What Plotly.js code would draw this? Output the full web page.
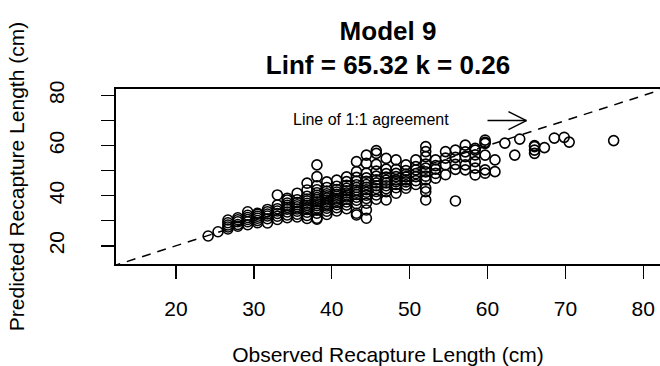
<!DOCTYPE html>
<html>
<head>
<meta charset="utf-8">
<script src="https://cdn.plot.ly/plotly-3.0.1.min.js"></script>
<style>html,body{margin:0;padding:0;background:#fff;}#chart{width:660px;height:366px;}</style>
</head>
<body>
<div id="chart"></div>
<script>
// Observed recapture lengths (cm, half-inch classes) and predicted lengths
const obsLengths = [24.13, 25.40, 26.67, 27.94, 29.21, 30.48, 31.75, 33.02, 34.29, 35.56,
  36.83, 38.10, 39.37, 40.64, 41.91, 43.18, 44.45, 45.72, 46.99, 48.26,
  49.53, 50.80, 52.07, 53.34, 54.61, 55.88, 57.15, 58.42, 59.69, 60.96,
  62.23, 63.50, 64.14, 66.04, 67.31, 68.58, 69.85, 70.49, 76.20];
const predLengths = [
  [23.9],
  [25.6],
  [26.7, 27.5, 28.3, 29.2, 30.3],
  [27.8, 28.5, 29.6, 30.4, 31.2],
  [28.4, 29.6, 30.5, 31.3, 32.2, 33.6],
  [29.2, 30.1, 31.0, 31.8, 32.6, 33.0],
  [29.1, 30.8, 31.9, 32.7, 33.6, 34.5],
  [30.5, 31.8, 32.9, 33.9, 34.8, 36.3, 40.3],
  [31.2, 32.3, 33.5, 34.6, 35.4, 36.2, 37.1, 38.3, 39.0],
  [31.5, 32.6, 33.8, 34.7, 35.6, 36.4, 37.3, 38.4, 41.0],
  [30.9, 32.1, 33.4, 34.5, 35.3, 36.2, 37.0, 37.9, 38.7, 39.8, 42.3, 45.0],
  [30.6, 31.0, 33.0, 34.2, 35.1, 36.0, 36.8, 37.6, 38.5, 39.3, 40.2, 41.2, 42.4, 44.0, 47.6, 52.3],
  [32.5, 33.8, 35.0, 35.9, 36.7, 37.5, 38.3, 39.1, 40.0, 40.8, 41.9, 43.3, 45.5],
  [33.9, 35.2, 36.4, 37.3, 38.2, 39.0, 39.8, 40.6, 41.5, 42.5, 43.8, 46.2],
  [34.8, 36.3, 37.5, 38.6, 39.5, 40.3, 41.1, 42.0, 43.0, 44.2, 45.6, 47.5],
  [32.3, 33.0, 36.8, 38.2, 39.4, 40.5, 41.4, 42.3, 43.3, 44.4, 45.8, 47.3, 49.6, 53.6],
  [31.0, 34.3, 37.0, 38.9, 40.2, 41.4, 42.4, 43.4, 44.5, 45.7, 47.1, 49.0, 52.9, 56.2],
  [38.6, 40.3, 41.7, 42.9, 44.0, 45.1, 46.3, 47.8, 49.8, 52.5, 56.9, 58.0],
  [38.3, 41.6, 42.8, 44.0, 45.1, 46.2, 47.4, 48.8, 50.6, 54.9],
  [41.0, 43.2, 44.5, 45.6, 46.3, 47.6, 48.9, 50.5, 54.3],
  [43.0, 44.3, 45.5, 46.3, 47.5, 48.6, 50.0, 52.3],
  [44.5, 46.0, 47.6, 48.8, 50.3, 51.6, 54.3],
  [38.3, 41.6, 43.0, 46.3, 47.8, 49.5, 51.0, 52.6, 55.6, 57.6, 59.6],
  [47.0, 48.9, 50.6, 52.0, 54.3],
  [48.4, 52.3, 55.0, 57.6],
  [37.9, 50.5, 52.5, 55.3, 58.2],
  [50.3, 52.3, 55.6, 57.5, 60.2],
  [48.3, 51.0, 53.6, 56.3, 58.2, 58.9],
  [49.0, 50.3, 56.2, 60.9, 61.3, 62.2],
  [49.6, 54.3],
  [61.0],
  [56.2],
  [62.6],
  [56.9, 58.2, 59.6, 60.0],
  [59.2],
  [63.0],
  [63.3],
  [61.4],
  [62.0]
];
const xTicks = [20, 30, 40, 50, 60, 70, 80];
const yTicks = [20, 30, 40, 50, 60, 70, 80];
const yTickText = ['20', '', '40', '', '60', '', '80'];
const oneToOne = [0, 100];
const arrowFrom = [60, 70];
const arrowTo = [65, 70];
const labelPos = [45, 70.4];

const xs = [], ys = [];
obsLengths.forEach((o, i) => predLengths[i].forEach(p => { xs.push(o); ys.push(p); }));

const FONT = 'Liberation Sans, Arial, Helvetica, sans-serif';

const traces = [
  {
    x: oneToOne, y: oneToOne, type: 'scatter', mode: 'lines',
    line: {color: '#000', width: 1.5, dash: '9px,7px'}, hoverinfo: 'skip', showlegend: false
  },
  {
    x: xs, y: ys, type: 'scatter', mode: 'markers',
    marker: {symbol: 'circle-open', size: 10, color: '#000', line: {color: '#000', width: 1.6}},
    showlegend: false
  }
];

const layout = {
  width: 660, height: 366,
  margin: {l: 116, r: 0, t: 89, b: 102, pad: 0},
  paper_bgcolor: '#fff', plot_bgcolor: '#fff',
  showlegend: false,
  title: {
    text: 'Model 9<br>Linf = 65.32 k = 0.26',
    font: {family: FONT, size: 26, color: '#000', weight: 'bold'},
    x: 0.5, xref: 'paper', xanchor: 'center',
    y: 1 - 40 / 366, yref: 'container', yanchor: 'middle'
  },
  xaxis: {
    range: [12.30, 82.15], tickvals: xTicks, ticktext: xTicks.map(String),
    ticks: 'outside', ticklen: 13, tickwidth: 1.5, tickcolor: '#000',
    showline: true, linewidth: 1.6, linecolor: '#000', mirror: true,
    showgrid: false, zeroline: false,
    tickfont: {family: FONT, size: 21, color: '#000'},
    ticklabelstandoff: 12,
    title: {text: 'Observed Recapture Length (cm)', font: {family: FONT, size: 21, color: '#000'}, standoff: 30}
  },
  yaxis: {
    range: [12.73, 82.6], tickvals: yTicks, ticktext: yTickText, tickangle: -90,
    ticks: 'outside', ticklen: 13, tickwidth: 1.5, tickcolor: '#000',
    showline: true, linewidth: 1.6, linecolor: '#000', mirror: false,
    showgrid: false, zeroline: false,
    tickfont: {family: FONT, size: 21, color: '#000'},
    ticklabelstandoff: 29,
    title: {text: 'Predicted Recapture Length (cm)', font: {family: FONT, size: 21, color: '#000'}, standoff: 14}
  },
  annotations: [
    {x: labelPos[0], y: labelPos[1], xref: 'x', yref: 'y', text: 'Line of 1:1 agreement',
     showarrow: false, font: {family: FONT, size: 16, color: '#000'}, xanchor: 'center', yanchor: 'middle'}
  ],
  shapes: [
    {type: 'line', xref: 'x', yref: 'y', x0: arrowFrom[0], y0: arrowFrom[1], x1: arrowTo[0], y1: arrowTo[1],
     line: {color: '#000', width: 1.5}},
    {type: 'line', xref: 'x', yref: 'y', xsizemode: 'pixel', ysizemode: 'pixel',
     xanchor: arrowTo[0], yanchor: arrowTo[1], x0: -18, y0: 9, x1: 0, y1: 0, line: {color: '#000', width: 1.5}},
    {type: 'line', xref: 'x', yref: 'y', xsizemode: 'pixel', ysizemode: 'pixel',
     xanchor: arrowTo[0], yanchor: arrowTo[1], x0: -18, y0: -9, x1: 0, y1: 0, line: {color: '#000', width: 1.5}}
  ]
};

Plotly.newPlot('chart', traces, layout, {staticPlot: true, displayModeBar: false});
</script>
</body>
</html>
